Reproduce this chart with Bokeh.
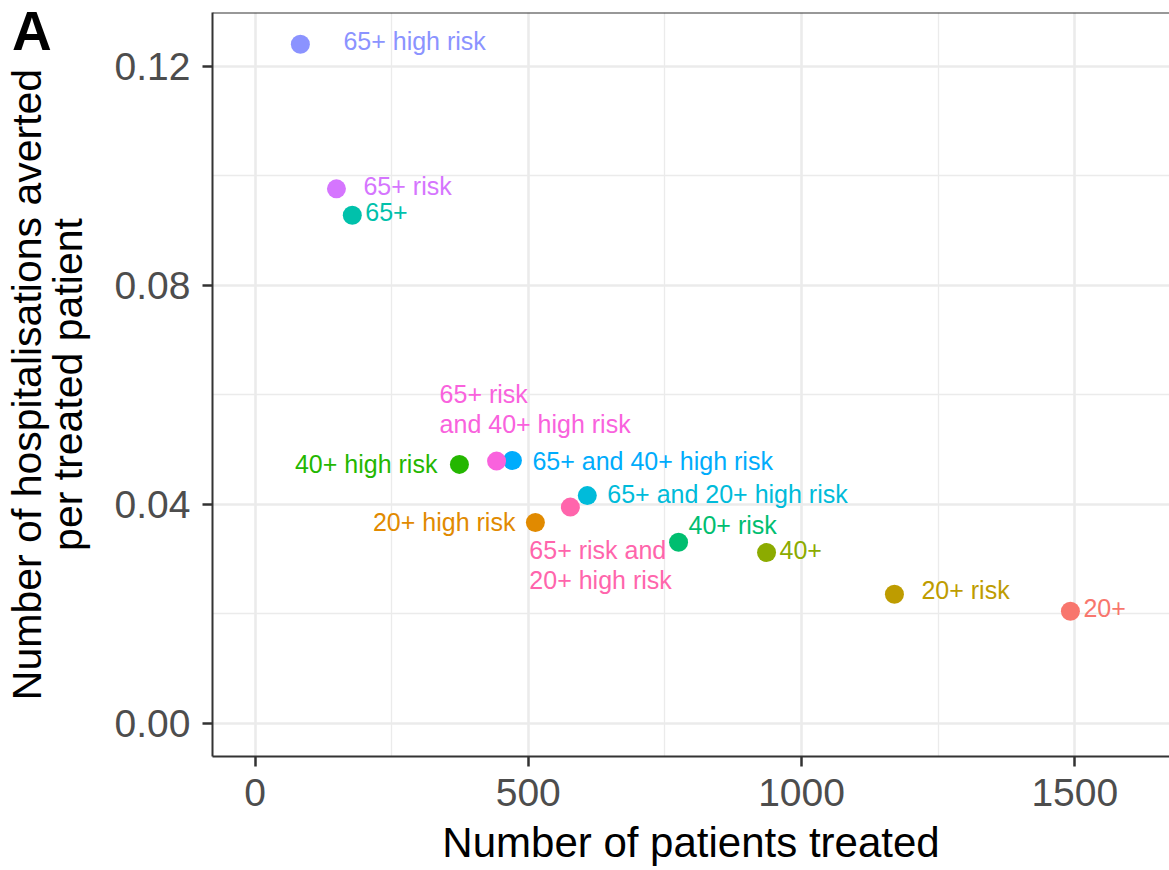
from bokeh.plotting import figure
from bokeh.layouts import column
from bokeh.models import ColumnDataSource, Range1d, FixedTicker, Span, PrintfTickFormatter, Div
from bokeh.core.properties import value
from bokeh.embed import file_html
from bokeh.resources import INLINE

# ---- data ----
groups = ["20+", "20+ high risk", "20+ risk", "40+", "40+ high risk", "40+ risk", "65+",
          "65+ and 20+ high risk", "65+ and 40+ high risk", "65+ high risk", "65+ risk",
          "65+ risk and 40+ high risk", "65+ risk and 20+ high risk"]
patients_treated = [1492, 513, 1170, 936, 374, 775, 178, 608, 471, 83, 149, 442, 577]
averted_per_patient = [0.0205, 0.0367, 0.0236, 0.0312, 0.0473, 0.0331, 0.0928,
                       0.0416, 0.0480, 0.1240, 0.0976, 0.0479, 0.0395]
label_text = ["20+", "20+ high risk", "20+ risk", "40+", "40+ high risk", "40+ risk", "65+",
              "65+ and 20+ high risk", "65+ and 40+ high risk", "65+ high risk", "65+ risk",
              "65+ risk\nand 40+ high risk", "65+ risk and\n20+ high risk"]
palette = ["#F8766D", "#E18A00", "#BE9C00", "#8CAB00", "#24B700", "#00BE70", "#00C1AB",
           "#00BBDA", "#00ACFC", "#8B93FF", "#D575FE", "#F962DD", "#FF65AC"]
x_ticks = [0, 500, 1000, 1500]
x_minor = [250, 750, 1250]
y_ticks = [0.00, 0.04, 0.08, 0.12]
y_minor = [0.02, 0.06, 0.10]

# ---- label layout (screen offsets from each point) ----
label_dx = [13, -20, 27, 13, -22, 10, 13, 20, 20, 43, 27, -57, -41]
label_dy = [-3, 0, -4, -3, 0, -17, -3, -2, 0, -3, -3, -52, 58]
label_align = ["left", "right", "left", "left", "right", "left", "left", "left", "left",
               "left", "left", "left", "left"]

src = ColumnDataSource(dict(x=patients_treated, y=averted_per_patient, g=groups,
                            lab=label_text, c=palette, dx=label_dx, dy=label_dy,
                            al=label_align))

FONT = "Liberation Sans"

p = figure(width=1169, height=870, output_backend="svg", toolbar_location=None,
           x_range=Range1d(-77.8, 1673.3), y_range=Range1d(-0.00603, 0.1298),
           min_border_left=212, min_border_top=12, min_border_bottom=114, min_border_right=0,
           background_fill_color="white", border_fill_color="white")
p.outline_line_color = None

p.scatter("x", "y", source=src, size=19, color="c", line_color=None)
p.text("x", "y", text="lab", source=src, x_offset="dx", y_offset="dy", text_align="al",
       text_baseline="middle", text_color="c", text_font=value(FONT),
       text_font_size="25px", text_line_height=1.08)

# axes
p.xaxis.ticker = FixedTicker(ticks=x_ticks, minor_ticks=x_minor)
p.yaxis.ticker = FixedTicker(ticks=y_ticks, minor_ticks=y_minor)
p.yaxis.formatter = PrintfTickFormatter(format="%.2f")
for ax in (p.xaxis[0], p.yaxis[0]):
    ax.axis_line_color = "#333333"
    ax.axis_line_width = 2
    ax.major_tick_line_color = "#333333"
    ax.major_tick_line_width = 2.5
    ax.major_tick_out = 10
    ax.major_tick_in = 0
    ax.minor_tick_line_color = None
    ax.major_label_text_font = FONT
    ax.major_label_text_font_size = "39px"
    ax.major_label_text_color = "#4D4D4D"
    ax.axis_label_text_font = FONT
    ax.axis_label_text_font_style = "normal"
    ax.axis_label_text_color = "black"
p.xaxis.axis_label_text_font_size = "42px"
p.yaxis.axis_label_text_font_size = "41px"
p.yaxis.axis_label_text_line_height = 0.88
p.xaxis.axis_label = "Number of patients treated"
p.yaxis.axis_label = "Number of hospitalisations averted\nper treated patient"
p.xaxis.major_label_standoff = 12
p.yaxis.major_label_standoff = 12
p.xaxis.axis_label_standoff = 10
p.yaxis.axis_label_standoff = 21

# grid
for g in (p.xgrid[0], p.ygrid[0]):
    g.grid_line_color = "#EBEBEB"
    g.grid_line_width = 2.6
    g.minor_grid_line_color = "#EBEBEB"
    g.minor_grid_line_width = 1.3

# top border of panel
p.add_layout(Span(location=p.y_range.end, dimension="width", line_color="#333333", line_width=2))

# panel tag, placed over the plot's top-left corner
tag = Div(text="A", width=50, height=62, margin=(0, 0, 0, 0),
          styles={"position": "absolute", "left": "12px", "top": "1px",
                  "font-family": FONT, "font-size": "55px", "font-weight": "bold",
                  "line-height": "1.117", "color": "black", "z-index": "10"})

layout = column(p, tag)
open("out.html", "w").write(file_html(layout, INLINE))
